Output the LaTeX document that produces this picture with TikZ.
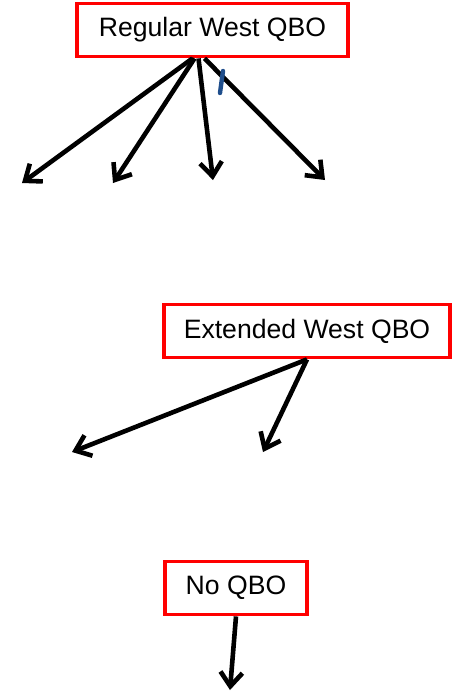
\documentclass[tikz,border=0pt]{standalone}
\usepackage{fontspec}
\setmainfont{Liberation Sans}
\usetikzlibrary{arrows.meta,positioning,calc}
\definecolor{penblue}{RGB}{31,78,140}

\begin{document}
\begin{tikzpicture}[
  x=0.5pt, y=-0.5pt,
  qbobox/.style={rectangle, draw=red, line width=1.9pt, fill=white,
    inner sep=0pt, minimum height=26.5pt, align=center,
    font=\fontsize{13.3}{16}\selectfont},
  arrow/.style={-{Straight Barb[length=7pt, width=11pt]}, line width=2.3pt},
]
  \useasboundingbox (0,0) rectangle (452,692);

  % Boxes
  \node[qbobox, minimum width=135.5pt] (reg) at (212.5,30) {Regular West QBO};
  \node[qbobox, minimum width=143pt] (ext) at (307,331) {Extended West QBO};
  \node[qbobox, minimum width=71pt] (noq) at (236,588) {No QBO};

  % Arrow ends
  \coordinate (r1) at (22,183);
  \coordinate (r2) at (113,183);
  \coordinate (r3) at (213,180);
  \coordinate (r4) at (325,180);
  \coordinate (e1) at (72,452);
  \coordinate (e2) at (263,452);
  \coordinate (n1) at (230,690);

  % Arrows from Regular West QBO
  \draw[arrow] ($(reg.south)+(-20,0)$) -- (r1);
  \draw[arrow] ($(reg.south)+(-18,0)$) -- (r2);
  \draw[arrow] ($(reg.south)+(-14,0)$) -- (r3);
  \draw[arrow] ($(reg.south)+(-8,0)$) -- (r4);

  % stray pen mark
  \coordinate (m1) at (223,71);
  \coordinate (m2) at (220,93);
  \draw[line width=2.2pt, line cap=round, color=penblue] (m1) -- (m2);

  % Arrows from Extended West QBO
  \draw[arrow] (ext.south) -- (e1);
  \draw[arrow] (ext.south) -- (e2);

  % Arrow from No QBO
  \draw[arrow] (noq.south) -- (n1);
\end{tikzpicture}
\end{document}
